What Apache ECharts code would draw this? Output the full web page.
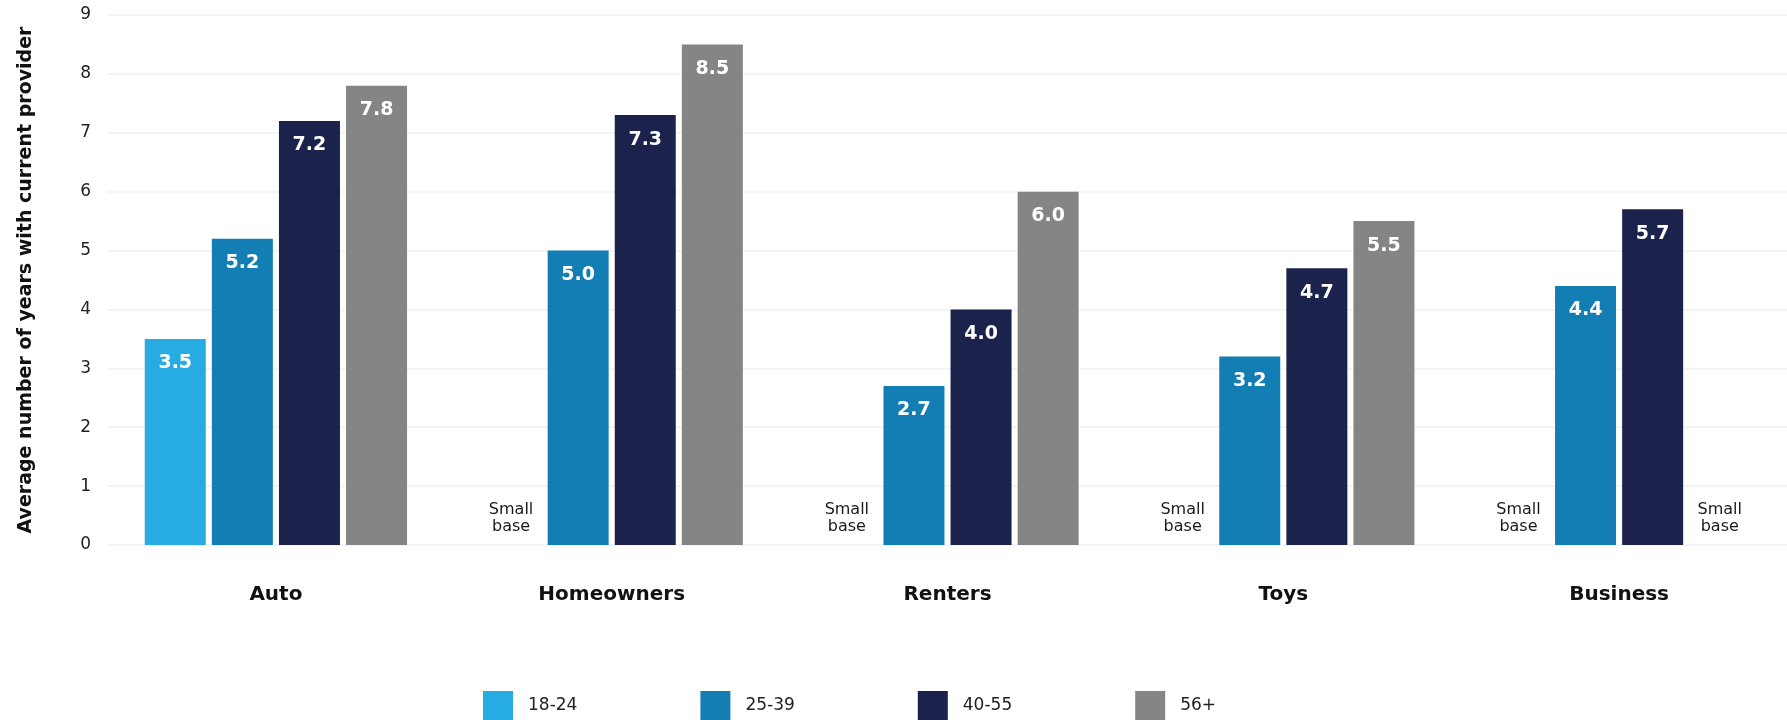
<!DOCTYPE html>
<html>
<head>
<meta charset="utf-8">
<script src="https://cdn.jsdelivr.net/npm/echarts@6/dist/echarts.min.js"></script>
<style>
  html, body { margin: 0; padding: 0; background: #fff; }
  #chart { width: 1787px; height: 720px; }
</style>
</head>
<body>
<div id="chart"></div>
<script>
var categories = ['Auto', 'Homeowners', 'Renters', 'Toys', 'Business'];
var seriesNames = ['18-24', '25-39', '40-55', '56+'];
var colors = ['#26ACE2', '#137EB4', '#1B224C', '#858585'];
// null = small base
var age18_24 = [3.5, null, null, null, null];
var age25_39 = [5.2, 5.0, 2.7, 3.2, 4.4];
var age40_55 = [7.2, 7.3, 4.0, 4.7, 5.7];
var age56plus = [7.8, 8.5, 6.0, 5.5, null];
var yTicks = [0, 1, 2, 3, 4, 5, 6, 7, 8, 9];

var font = 'DejaVu Sans';
var myChart = echarts.init(document.getElementById('chart'));

function makeData(arr) {
    return arr.map(function (v) {
        if (v === null) {
            return {
                value: 0,
                label: {
                    show: true,
                    position: 'top',
                    distance: 10,
                    formatter: 'Small\nbase',
                    color: '#1a1a1a',
                    fontSize: 16,
                    fontWeight: 'normal',
                    lineHeight: 17
                }
            };
        }
        return v;
    });
}

var allData = [age18_24, age25_39, age40_55, age56plus];
var series = [];
for (var i = 0; i < seriesNames.length; i++) {
    series.push({
        name: seriesNames[i],
        type: 'bar',
        barWidth: 61,
        barGap: '10%',
        itemStyle: { color: colors[i] },
        label: {
            show: true,
            position: 'insideTop',
            distance: 15,
            color: '#fff',
            fontFamily: font,
            fontWeight: 'bold',
            fontSize: 19,
            formatter: function (p) { return p.value.toFixed(1); }
        },
        data: makeData(allData[i])
    });
}

var option = {
    animation: false,
    textStyle: { fontFamily: font },
    legend: {
        data: seriesNames,
        left: 483,
        top: 691,
        padding: 0,
        itemWidth: 30,
        itemHeight: 30,
        itemGap: 123,
        icon: 'rect',
        textStyle: {
            fontFamily: font,
            fontSize: 17,
            color: '#222',
            padding: [0, 0, 0, 10]
        }
    },
    grid: {
        left: 108,
        top: 15,
        width: 1688,
        height: 530
    },
    xAxis: {
        type: 'category',
        data: categories,
        axisLine: { show: false },
        axisTick: { show: false },
        axisLabel: {
            margin: 40,
            fontFamily: font,
            fontWeight: 'bold',
            fontSize: 20,
            color: '#111'
        }
    },
    yAxis: {
        type: 'value',
        min: yTicks[0],
        max: yTicks[yTicks.length - 1],
        interval: 1,
        name: 'Average number of years with current provider',
        nameLocation: 'middle',
        nameGap: 72,
        nameTextStyle: {
            fontFamily: font,
            fontWeight: 'bold',
            fontSize: 19,
            color: '#111'
        },
        axisLine: { show: false },
        axisTick: { show: false },
        axisLabel: {
            margin: 17,
            fontFamily: font,
            fontSize: 17,
            color: '#222'
        },
        splitLine: { lineStyle: { color: '#f4f4f4', width: 2 } }
    },
    series: series
};
myChart.setOption(option);
</script>
</body>
</html>
